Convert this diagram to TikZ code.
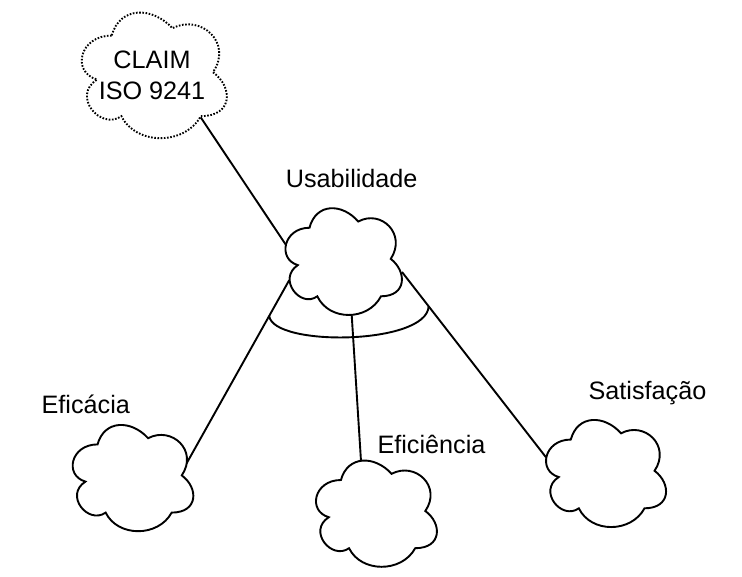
\documentclass[tikz,border=0pt]{standalone}
\usepackage{fontspec}
\setmainfont{Liberation Sans}
\usetikzlibrary{calc}
\newcommand\mxcloud[6]{%
  \begin{scope}[shift={(#2,#3)}, x=#4pt, y=-#5pt]
    \draw[#6] (0.25,0.25) .. controls (0.05,0.25) and (0,0.5) .. (0.16,0.55)
      .. controls (0,0.66) and (0.18,0.9) .. (0.31,0.8)
      .. controls (0.4,1) and (0.7,1) .. (0.8,0.8)
      .. controls (1,0.8) and (1,0.6) .. (0.875,0.5)
      .. controls (1,0.3) and (0.8,0.1) .. (0.625,0.2)
      .. controls (0.5,0.05) and (0.3,0.05) .. (0.25,0.25) -- cycle;
    \node[inner sep=0pt, minimum size=0pt] (#1) at (0.5,0.5) {};
  \end{scope}}
\tikzset{
  cloudline/.style={line width=1.9pt, fill=white},
  dottedcloud/.style={line width=1.9pt, fill=white, dash pattern=on 1.6pt off 1.6pt},
  conn/.style={line width=1.9pt},
  lbl/.style={font=\fontsize{25.2}{31}\selectfont, anchor=base, inner sep=0pt},
}
\begin{document}
\begin{tikzpicture}[x=1pt, y=-1pt]
  \useasboundingbox (0,0) rectangle (742,576);
  % attachment coordinates
  \coordinate (claimA) at (200.7,117.3);
  \coordinate (usabL) at (286,245);
  \coordinate (usabLL) at (289.3,280);
  \coordinate (usabB) at (351.7,315);
  \coordinate (usabR) at (402,272);
  \coordinate (eficaciaR) at (184,468);
  \coordinate (eficienciaT) at (361,461);
  \coordinate (satisfL) at (546,457.3);
  % connectors
  \draw[conn] (claimA) -- (usabL);
  \draw[conn] (usabLL) -- (eficaciaR);
  \draw[conn] (usabB) -- (eficienciaT);
  \draw[conn] (usabR) -- (satisfL);
  \coordinate (arcL) at ($(usabLL)!0.191!(eficaciaR)$);
  \coordinate (arcR) at ($(usabR)!0.185!(satisfL)$);
  \draw[conn] (arcL) .. controls (273,347) and (427,345) .. (arcR);
  % clouds
  \mxcloud{claim}{71.2}{-1.1}{162}{146.6}{dottedcloud}
  \mxcloud{usab}{277}{196.6}{130}{124.6}{cloudline}
  \mxcloud{eficacia}{63.9}{413.4}{134.7}{124}{cloudline}
  \mxcloud{eficiencia}{307.2}{449}{135}{124}{cloudline}
  \mxcloud{satisf}{537.3}{408.3}{134}{125}{cloudline}
  % texts
  \node[font=\fontsize{25.2}{31}\selectfont, align=center, inner sep=0pt] (claimtext) at (152,75.2) {CLAIM\\ISO 9241};
  \node[lbl] (usabtext) at (351.7,187.7) {Usabilidade};
  \node[lbl] (eficaciatext) at (85.8,413.3) {Eficácia};
  \node[lbl] (eficienciatext) at (431.5,453.3) {Eficiência};
  \node[lbl] (satisftext) at (647.5,399.3) {Satisfação};
\end{tikzpicture}
\end{document}
